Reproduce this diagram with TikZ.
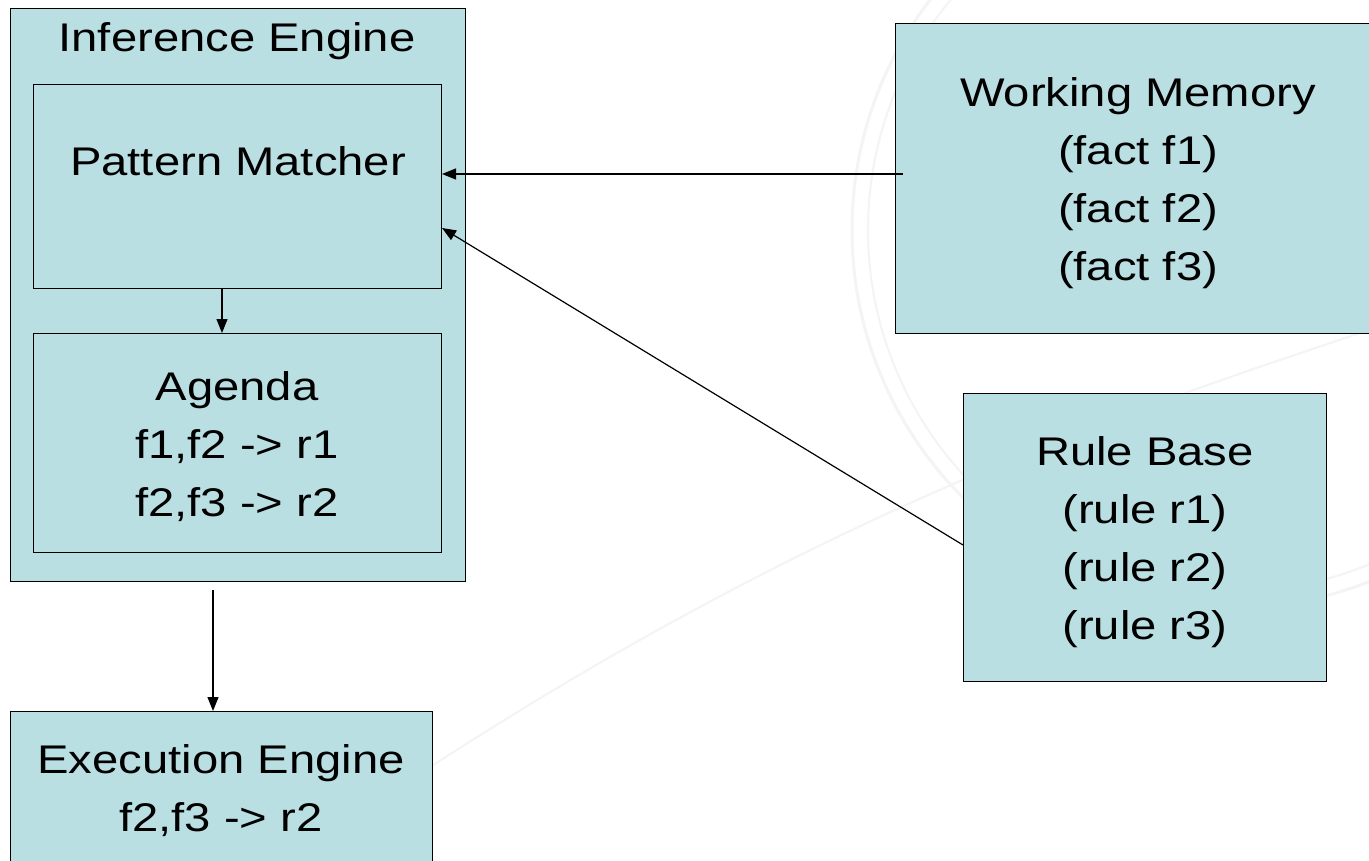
\documentclass[tikz,border=0pt]{standalone}
\usepackage{fontspec}
\setmainfont{Liberation Sans}[FakeStretch=1.18]
\usetikzlibrary{arrows.meta}
\definecolor{boxfill}{HTML}{BADFE3}
\definecolor{wmark}{HTML}{F4F4F4}
\tikzset{
  panel/.style={draw=black, line width=1.4pt, fill=boxfill, anchor=north west, inner sep=0pt},
  label/.style={font=\fontsize{40}{58}\selectfont, align=center, inner sep=0pt},
  flow/.style={line width=1.2pt, -{Triangle[length=14pt,width=11pt]}}
}
\begin{document}
\begin{tikzpicture}[x=1pt,y=-1pt]
  \useasboundingbox (0,0) rectangle (1369,861);
  \fill[white] (0,0) rectangle (1369,861);
  % faint globe watermark
  \begin{scope}
    \clip (0,0) rectangle (1369,861);
    \draw[wmark, line width=3pt] (1230,230) circle (378);
    \draw[wmark, line width=2pt] (1230,230) circle (362);
    \draw[wmark, line width=2pt] (380,800) .. controls (800,520) and (1100,420) .. (1369,330);
  \end{scope}

  % inference engine with its two parts
  \node[panel, minimum width=455pt, minimum height=573pt] (ie) at (10,8) {};
  \node[label] (ietitle) at (237,41) {Inference Engine};
  \node[panel, minimum width=408pt, minimum height=204pt] (pm) at (33,84) {};
  \node[label] (pmtext) at (238,161) {Pattern Matcher};
  \node[panel, minimum width=408pt, minimum height=219pt] (ag) at (33,333) {};
  \node[label] (agtext) at (237,447) {Agenda\\ f1,f2 -> r1\\ f2,f3 -> r2};

  % execution engine
  \node[panel, minimum width=422pt, minimum height=170pt] (ex) at (10,711) {};
  \node[label] (extext) at (221,791) {Execution Engine\\ f2,f3 -> r2};

  % working memory
  \node[panel, minimum width=490pt, minimum height=310pt] (wm) at (895,23) {};
  \node[label] (wmtext) at (1138,183) {Working Memory\\ (fact f1)\\ (fact f2)\\ (fact f3)};

  % rule base
  \node[panel, minimum width=363pt, minimum height=288pt] (rb) at (963,393) {};
  \node[label] (rbtext) at (1145,542) {Rule Base\\ (rule r1)\\ (rule r2)\\ (rule r3)};

  % connectors
  \coordinate (wmout) at (903,174);
  \coordinate (rbout) at (963,545);
  \coordinate (pmin1) at (442,174);
  \coordinate (pmin2) at (442,228);
  \coordinate (ieout) at (213,590);
  \draw[flow] (wmout) -- (pmin1);
  \draw[flow] (rbout) -- (pmin2);
  \draw[flow] (pm.south -| 222,0) -- (ag.north -| 222,0);
  \draw[flow] (ieout) -- (ex.north -| ieout);
\end{tikzpicture}
\end{document}
